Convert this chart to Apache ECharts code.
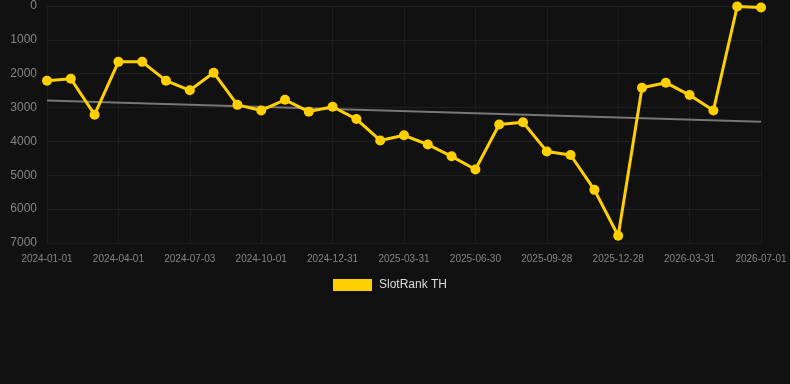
<!DOCTYPE html>
<html>
<head>
<meta charset="UTF-8" />
<title>SlotRank TH</title>
<script src="https://cdn.jsdelivr.net/npm/echarts@6/dist/echarts.min.js"></script>
<style>
  html, body { margin: 0; padding: 0; background: #111111; }
  #chart { width: 790px; height: 384px; }
</style>
</head>
<body>
<div id="chart"></div>
<script>
// dates of each point (about one month apart)
var dates = [
  '2024-01-01', '2024-01-31', '2024-03-01', '2024-04-01', '2024-05-02', '2024-06-02',
  '2024-07-03', '2024-08-02', '2024-09-01', '2024-10-01', '2024-10-31', '2024-11-30',
  '2024-12-31', '2025-01-30', '2025-03-01', '2025-03-31', '2025-04-30', '2025-05-30',
  '2025-06-30', '2025-07-30', '2025-08-29', '2025-09-28', '2025-10-28', '2025-11-27',
  '2025-12-28', '2026-01-28', '2026-02-28', '2026-03-31', '2026-05-01', '2026-06-01',
  '2026-07-01'
];
var rank = [
  2210, 2150, 3210, 1650, 1650, 2205,
  2490, 1970, 2920, 3085, 2770, 3120,
  2975, 3340, 3970, 3820, 4090, 4440,
  4830, 3500, 3435, 4295, 4400, 5430,
  6785, 2415, 2265, 2630, 3085, 15,
  45
];
// trend line end points [index, value]
var trendStart = [0, 2790];
var trendEnd = [30, 3420];

var chart = echarts.init(document.getElementById('chart'));
chart.setOption({
  backgroundColor: '#111111',
  animation: false,
  grid: { left: 47, right: 29, top: 6, bottom: 141 },
  legend: {
    data: ['SlotRank TH'],
    top: 274,
    left: 328,
    itemWidth: 39,
    itemHeight: 12,
    icon: 'rect',
    textStyle: {
      color: '#dddddd',
      fontSize: 12,
      padding: [0, 0, 0, 2],
      fontFamily: 'Liberation Sans, Arial, sans-serif'
    }
  },
  xAxis: {
    type: 'category',
    data: dates,
    boundaryGap: false,
    axisLine: { show: false },
    axisTick: { show: false },
    axisLabel: {
      interval: 2,
      color: '#858585',
      fontSize: 10,
      margin: 11,
      fontFamily: 'Liberation Sans, Arial, sans-serif'
    },
    splitLine: { show: true, interval: 2, lineStyle: { color: '#1c1c1c', width: 1 } }
  },
  yAxis: {
    type: 'value',
    inverse: true,
    min: 0,
    max: 7000,
    interval: 1000,
    axisLine: { show: false },
    axisTick: { show: false },
    axisLabel: {
      color: '#858585',
      fontSize: 12,
      margin: 10,
      formatter: function (v) { return String(v); },
      fontFamily: 'Liberation Sans, Arial, sans-serif'
    },
    splitLine: { lineStyle: { color: '#202020', width: 1 } }
  },
  series: [{
    name: 'SlotRank TH',
    type: 'line',
    data: rank,
    symbol: 'circle',
    symbolSize: 10,
    itemStyle: { color: '#ffd000' },
    lineStyle: { color: '#ffd000', width: 3 },
    z: 3,
    markLine: {
      silent: true,
      symbol: 'none',
      label: { show: false },
      lineStyle: { color: '#777777', width: 2, type: 'solid' },
      data: [[
        { coord: trendStart },
        { coord: trendEnd }
      ]],
      z: 2
    }
  }]
});
</script>
</body>
</html>
